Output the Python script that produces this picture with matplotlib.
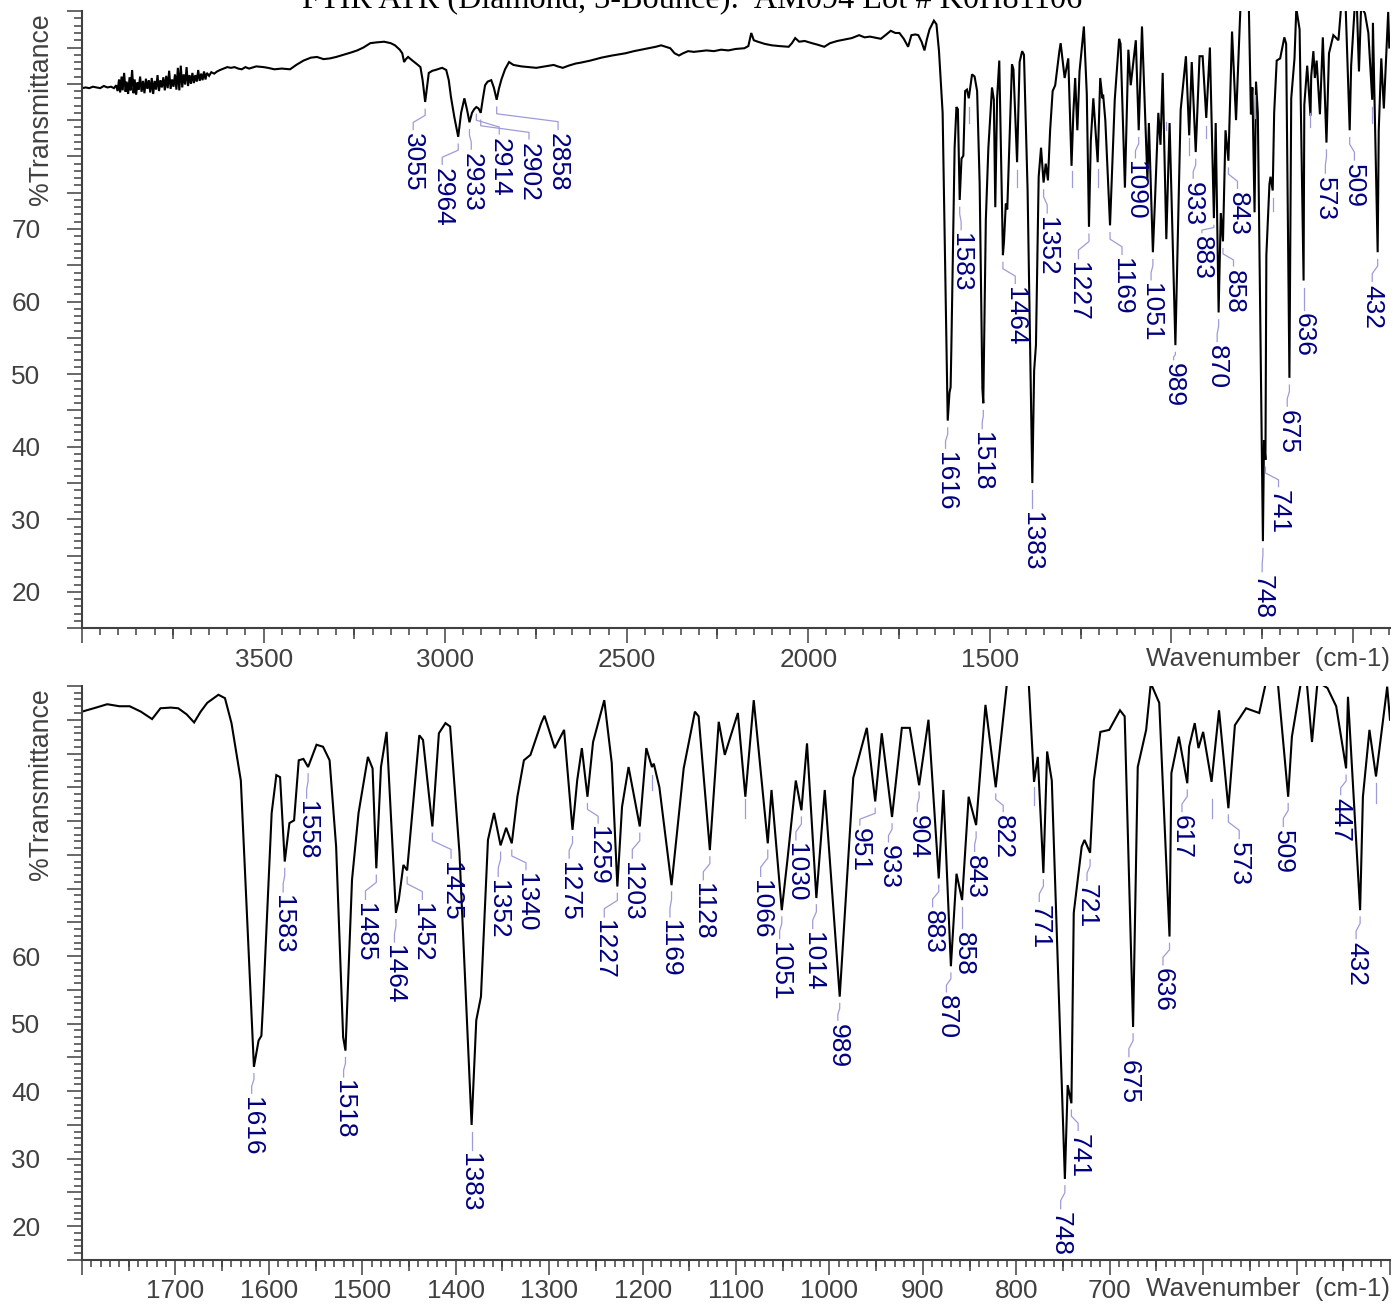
import numpy as np
import matplotlib
matplotlib.use("Agg")
import matplotlib.pyplot as plt
from matplotlib.ticker import MultipleLocator

plt.rcParams['font.family'] = ['Liberation Sans', 'DejaVu Sans']

# ---------------- data ----------------
wavenumber = [
    4000, 3990, 3980, 3970, 3960, 3950, 3940, 3930, 3920, 3912, 3906,
    3902, 3898, 3895, 3891, 3888, 3884, 3880, 3877, 3873, 3869, 3866, 3862,
    3858, 3855, 3851, 3847, 3844, 3840, 3836, 3832, 3828, 3824, 3820, 3816,
    3812, 3808, 3804, 3800, 3796, 3792, 3788, 3784, 3780, 3776, 3772, 3768,
    3764, 3760, 3756, 3752, 3748, 3744, 3740, 3736, 3732, 3728, 3724, 3720,
    3716, 3712, 3708, 3704, 3700, 3696, 3692, 3688, 3684, 3680, 3676, 3672,
    3668, 3664, 3660, 3656, 3650, 3644, 3636, 3628, 3620, 3610, 3600, 3590,
    3580, 3570, 3560, 3550,
    3540, 3520, 3500, 3488, 3470, 3450, 3427, 3410, 3390, 3370, 3353, 3335,
    3317, 3300, 3280, 3260, 3242, 3225, 3206, 3190, 3168, 3150, 3138, 3125,
    3118, 3113, 3108, 3102, 3090, 3075, 3068, 3062, 3055, 3050, 3045, 3035,
    3027, 3015, 3008, 2997, 2990, 2984, 2975, 2964, 2956, 2947, 2940, 2933,
    2926, 2920, 2914, 2908, 2902, 2896, 2890, 2883, 2873, 2866, 2858, 2852,
    2845, 2835, 2824, 2812, 2790, 2770, 2749, 2725, 2701, 2690, 2676, 2660,
    2640, 2628, 2600, 2570, 2540, 2504, 2480, 2450, 2420, 2405, 2392, 2380,
    2368, 2356, 2345, 2331, 2315, 2298, 2280, 2260, 2240, 2220, 2200, 2176,
    2165, 2157, 2150, 2139, 2120, 2100, 2080, 2054, 2045, 2036, 2025, 2010,
    1990, 1975, 1956, 1940, 1920, 1900, 1880, 1860, 1845, 1830, 1810,
    1800, 1785, 1773, 1760, 1749, 1737, 1725, 1716, 1705, 1697, 1688, 1680,
    1673, 1666, 1654, 1647, 1640, 1630, 1616, 1611, 1608, 1606, 1597, 1592,
    1588, 1583, 1578, 1573, 1568, 1563, 1558, 1549, 1542, 1535, 1528, 1520.5,
    1518, 1511, 1504, 1494, 1489, 1485, 1480, 1474, 1464, 1461, 1456, 1452,
    1439, 1435, 1425, 1418, 1411, 1406, 1396, 1383, 1378, 1373, 1365.5, 1359,
    1352, 1346, 1340, 1334, 1327, 1320, 1308.5, 1305, 1294, 1284, 1275, 1270,
    1265, 1259, 1253, 1241, 1233, 1227, 1222, 1215, 1203, 1196, 1190, 1188,
    1182, 1169, 1156, 1144, 1140, 1128, 1118.5, 1112, 1098, 1090, 1081, 1066,
    1062, 1051, 1045, 1036, 1030, 1024, 1014, 1005, 989, 974.5, 960, 951,
    944, 933, 922.5, 914, 904, 894, 883, 878, 870, 864, 858, 851,
    843, 833, 822, 810, 800, 786.7, 781, 777, 771, 767, 762, 748,
    745, 741, 738.5, 730, 727, 721, 717, 710, 700.5, 689, 684, 675,
    670, 661, 656, 647, 636, 634, 626, 617, 615, 609, 605, 600,
    591, 583, 573, 566, 554, 540, 533, 526, 520, 509, 505, 495.5,
    492, 489, 483.5, 478, 475, 467, 457.6, 447, 445, 432, 429, 422,
    415, 403, 400,
]
transmittance = [
    89.4, 89.5, 89.4, 89.6, 89.5, 89.4, 89.7, 89.5, 89.6, 89.4, 89.8,
    89.0, 90.6, 88.8, 91.0, 89.1, 91.5, 88.9, 90.3, 88.6, 90.9, 89.1, 91.9,
    88.7, 90.6, 88.5, 90.2, 89.2, 91.0, 88.9, 90.4, 88.7, 90.7, 89.3, 90.5,
    88.8, 90.8, 88.6, 90.4, 89.2, 91.2, 89.0, 90.5, 89.5, 90.9, 89.1, 91.1,
    89.4, 91.8, 89.3, 90.6, 89.6, 91.3, 89.2, 92.2, 89.1, 92.5, 89.5, 91.3,
    89.9, 92.3, 89.7, 91.2, 90.0, 91.5, 90.1, 91.2, 90.3, 91.9, 90.4, 91.4,
    90.5, 91.7, 90.6, 91.5, 91.1, 91.6, 91.4, 91.7, 91.9, 92.1, 92.3, 92.2,
    92.3, 92.1, 92.0, 92.3,
    92.1, 92.4, 92.3, 92.2, 92.0, 92.1, 92.0, 92.6, 93.2, 93.6, 93.7, 93.4,
    93.5, 93.7, 94.0, 94.3, 94.6, 95.0, 95.6, 95.7, 95.8, 95.6, 95.3, 94.7,
    94.2, 93.0, 93.4, 93.7, 93.2, 92.6, 92.3, 90.5, 87.5, 89.5, 91.5, 91.8,
    91.9, 92.1, 92.2, 91.9, 90.5, 88.2, 85.5, 82.7, 86.0, 88.0, 86.5, 84.7,
    86.0, 86.5, 86.8, 86.6, 86.0, 88.0, 89.8, 90.3, 90.5, 89.5, 87.8, 89.3,
    90.6, 92.0, 93.0, 92.6, 92.4, 92.3, 92.2, 92.4, 92.6, 92.4, 92.2, 92.5,
    92.8, 92.9, 93.2, 93.6, 93.9, 94.2, 94.5, 94.8, 95.1, 95.3, 95.1, 94.9,
    94.2, 93.9, 94.2, 94.5, 94.4, 94.5, 94.6, 94.5, 94.7, 94.6, 94.8, 94.9,
    95.2, 97.0, 96.0, 95.8, 95.5, 95.3, 95.2, 95.1, 95.6, 96.3, 95.8, 95.9,
    95.6, 95.4, 95.1, 95.6, 95.9, 96.1, 96.3, 96.7, 96.4, 96.5, 96.3,
    96.2, 96.8, 97.3, 97.0, 97.0, 96.2, 95.1, 96.7, 96.8, 96.7, 95.8, 94.6,
    96.2, 97.5, 98.7, 98.2, 94.5, 86.0, 43.6, 47.5, 48.2, 53.5, 81.2, 86.8,
    86.5, 74.0, 79.7, 80.1, 89.0, 89.2, 88.0, 91.3, 91.0, 89.0, 76.2, 48.0,
    46.0, 71.3, 81.2, 89.5, 87.8, 73.0, 88.0, 93.2, 66.4, 68.3, 73.5, 72.7,
    92.7, 92.0, 79.2, 93.0, 94.5, 94.0, 75.3, 35.0, 50.5, 54.0, 77.2, 81.2,
    76.4, 79.0, 76.7, 83.6, 89.0, 89.8, 94.5, 95.6, 90.8, 93.5, 78.7, 86.0,
    90.8, 83.6, 91.7, 97.9, 88.6, 70.3, 82.1, 88.0, 79.2, 90.8, 88.0, 88.5,
    85.0, 70.5, 87.8, 96.2, 95.5, 75.7, 94.7, 89.8, 96.0, 83.6, 97.9, 76.7,
    84.6, 66.8, 74.2, 86.0, 81.6, 91.5, 68.6, 84.6, 54.0, 86.4, 93.8, 82.9,
    93.0, 80.6, 93.8, 93.8, 85.3, 95.0, 71.5, 84.6, 58.5, 72.2, 68.3, 83.6,
    79.4, 97.2, 85.0, 100.4, 103.0, 100.5, 85.8, 89.5, 72.3, 90.3, 86.0, 27.0,
    40.9, 38.2, 66.4, 76.2, 77.2, 75.3, 86.0, 93.2, 93.5, 96.4, 95.5, 49.5,
    88.0, 93.5, 100.4, 97.5, 62.9, 87.1, 92.5, 85.6, 91.0, 94.5, 90.8, 93.2,
    85.8, 96.4, 81.9, 94.2, 96.7, 96.0, 100.4, 104.0, 100.4, 83.6, 92.5, 100.4,
    102.0, 100.4, 91.7, 100.0, 100.4, 99.7, 97.0, 87.8, 98.4, 66.8, 83.6, 93.5,
    86.6, 99.9, 95.0,
]

# peak labels: peak wavenumber, label x (cm-1), label top (%T)
top_peaks = [3055, 2964, 2933, 2914, 2902, 2858, 1616, 1583, 1518, 1464,
             1383, 1352, 1227, 1169, 1090, 1051, 989, 933, 883, 870, 858,
             843, 748, 741, 675, 636, 573, 509, 432]
top_label_x = [3088, 3008, 2928, 2851, 2769, 2689, 1622, 1579, 1521, 1430,
               1384, 1342, 1256, 1136, 1099, 1056, 994, 940, 916, 874, 829,
               818, 750, 705, 681, 636, 576, 496, 447]
top_label_y = [83.2, 78.4, 80.5, 82.6, 81.9, 83.2, 39.3, 69.4, 42.0, 62.0,
               31.0, 71.7, 65.4, 66.0, 79.3, 62.5, 51.5, 76.5, 69.0, 54.0, 64.4,
               75.1, 22.3, 34.0, 45.1, 58.4, 77.2, 79.0, 62.3]

bot_peaks = [1616, 1583, 1558, 1518, 1485, 1464, 1452, 1425, 1383, 1352,
             1340, 1275, 1259, 1227, 1203, 1169, 1128, 1066, 1051, 1030,
             1014, 989, 951, 933, 904, 883, 870, 858, 843, 822, 771, 748,
             741, 721, 675, 636, 617, 573, 509, 447, 432]
bot_label_x = [1618.4, 1584.7, 1559.6, 1520, 1496.6, 1465.6, 1435.7, 1405,
               1384.4, 1354.5, 1324.8, 1278.6, 1247.6, 1241, 1211, 1170.7,
               1135, 1073.6, 1053.3, 1035.9, 1017.9, 991, 967.4, 936.8, 906,
               889.6, 874.8, 856.6, 844.6, 814, 775.4, 752.5, 733.8, 724.3,
               679.5, 643, 622.7, 561.4, 514.2, 452.8, 436.3]
bot_label_y = [39.2, 69.0, 82.9, 41.6, 67.9, 61.6, 67.9, 74.0, 30.8, 71.3,
               72.3, 74.0, 79.2, 65.3, 74.0, 65.3, 70.8, 71.3, 62.1, 76.7,
               63.6, 50.0, 78.9, 76.4, 80.9, 66.8, 54.2, 63.6, 75.0, 80.9,
               67.6, 22.1, 33.7, 70.7, 44.6, 58.2, 80.9, 76.9, 78.7, 83.4, 62.1]

# short unlabeled marker stubs: wavenumber, from %T, to %T
top_stub_x = [1558, 1425, 1275, 1203, 1014, 951, 904, 771, 721, 617, 447]
top_stub_y0 = [86.8, 78.1, 78.0, 78.3, 84.7, 82.5, 84.2, 88.4, 74.3, 86.0, 86.8]
top_stub_y1 = [84.6, 75.8, 75.8, 75.8, 83.6, 80.2, 82.6, 85.3, 72.5, 84.0, 84.6]
bot_stub_x = [1190, 1090, 781, 591, 415]
bot_stub_y0 = [86.8, 83.3, 85.0, 83.2, 85.6]
bot_stub_y1 = [84.6, 80.4, 82.4, 80.4, 82.6]

top_ytick_labels = [20, 30, 40, 50, 60, 70]
bot_ytick_labels = [20, 30, 40, 50, 60]

title = "FTIR ATR (Diamond, 3-Bounce):  AM094 Lot # K0H81106"

# ---------------- style ----------------
GRAY = '#404040'
NAVY = '#000080'
LEAD = '#9c9cd8'
TICKFS = 18.8
LABFS = 19

fig = plt.figure(figsize=(13.93, 13.04), dpi=100)
ax_top = fig.add_axes([0.05887, 0.5182, 0.93898, 0.4732])
ax_bot = fig.add_axes([0.05887, 0.03374, 0.93898, 0.4402])

wn = np.array(wavenumber, dtype=float)
tr = np.array(transmittance, dtype=float)
order = np.argsort(wn)
wn_a, tr_a = wn[order], tr[order]


def style_axes(ax, xlim, major, medium, minor, shown_labels, ylabels):
    ax.set_xlim(*xlim)
    ax.set_ylim(15, 100)
    for s in ('top', 'right'):
        ax.spines[s].set_visible(False)
    for s in ('left', 'bottom'):
        ax.spines[s].set_color(GRAY)
        ax.spines[s].set_linewidth(1.5)
    ax.set_xticks(major)
    ax.set_xticklabels([str(m) if m in shown_labels else '' for m in major])
    ax.xaxis.set_minor_locator(MultipleLocator(minor))
    yt = list(range(15, 101, 5))
    ax.set_yticks(yt)
    ax.set_yticklabels([str(v) if v in ylabels else '' for v in yt])
    ax.yaxis.set_minor_locator(MultipleLocator(1))
    ax.tick_params(axis='x', which='major', direction='out', length=10.5,
                   width=1.1, color=GRAY, labelcolor=GRAY, labelsize=TICKFS,
                   pad=3.5)
    ax.tick_params(axis='x', which='minor', direction='out', length=5.2,
                   width=1.1, color=GRAY)
    ax.tick_params(axis='y', which='major', direction='out', length=11,
                   width=1.1, color=GRAY, labelcolor=GRAY, labelsize=TICKFS,
                   pad=19)
    ax.tick_params(axis='y', which='minor', direction='out', length=6,
                   width=1.1, color=GRAY)
    sec = ax.secondary_xaxis('bottom')
    sec.set_xticks(medium)
    sec.set_xticklabels([''] * len(medium))
    sec.minorticks_off()
    sec.spines['bottom'].set_visible(False)
    sec.tick_params(axis='x', which='major', direction='out', length=8,
                    width=1.1, color=GRAY)


style_axes(ax_top, (4000, 398), list(range(4000, 399, -500)),
           list(range(3750, 399, -500)), 50,
           [3500, 3000, 2500, 2000, 1500], top_ytick_labels)
style_axes(ax_bot, (1800, 400), list(range(1800, 399, -100)),
           list(range(1750, 399, -100)), 10,
           [1700, 1600, 1500, 1400, 1300, 1200, 1100, 1000, 900, 800, 700],
           bot_ytick_labels)

for ax, ytop, ylab in ((ax_top, 0.9968, -0.0505), (ax_bot, 0.9965, -0.0505)):
    ax.plot(wn, tr, color='black', lw=1.5, solid_joinstyle='miter')
    ax.text(-0.0313, ytop, '%Transmittance', transform=ax.transAxes,
            rotation=90, ha='center', va='top', fontsize=19.2, color=GRAY)
    ax.text(1.0, ylab, 'Wavenumber  (cm-1)', transform=ax.transAxes,
            ha='right', va='center', fontsize=TICKFS, color=GRAY)


def draw_labels(ax, peaks, lx, ly, gap_s, gap_e):
    for p, x, y in zip(peaks, lx, ly):
        pT = float(np.interp(p, wn_a, tr_a))
        y0 = pT - gap_s
        y3 = y + gap_e
        if y0 > y3:
            if abs(x - p) < 1.5:
                ax.plot([p, p], [y0, y3], color=LEAD, lw=0.9, clip_on=False)
            else:
                y1 = y0 - 0.3 * (y0 - y3)
                y2 = y0 - 0.65 * (y0 - y3)
                ax.plot([p, p, x, x], [y0, y1, y2, y3], color=LEAD, lw=0.9,
                        clip_on=False)
        ax.text(x, y, str(p), rotation=270, ha='center', va='top',
                fontsize=LABFS, color=NAVY)


def draw_stubs(ax, xs, y0s, y1s):
    for x, a, b in zip(xs, y0s, y1s):
        ax.plot([x, x], [a, b], color=LEAD, lw=0.9)


draw_labels(ax_top, top_peaks, top_label_x, top_label_y, 1.0, 0.5)
draw_labels(ax_bot, bot_peaks, bot_label_x, bot_label_y, 1.0, 0.5)
draw_stubs(ax_top, top_stub_x, top_stub_y0, top_stub_y1)
draw_stubs(ax_bot, bot_stub_x, bot_stub_y0, bot_stub_y1)

fig.text(0.497, 1 - 8.5 / 1304, title, ha='center', va='baseline',
         fontsize=23.2, family=['Liberation Serif', 'DejaVu Serif'],
         color='black')

fig.savefig('out.png', dpi=100)
